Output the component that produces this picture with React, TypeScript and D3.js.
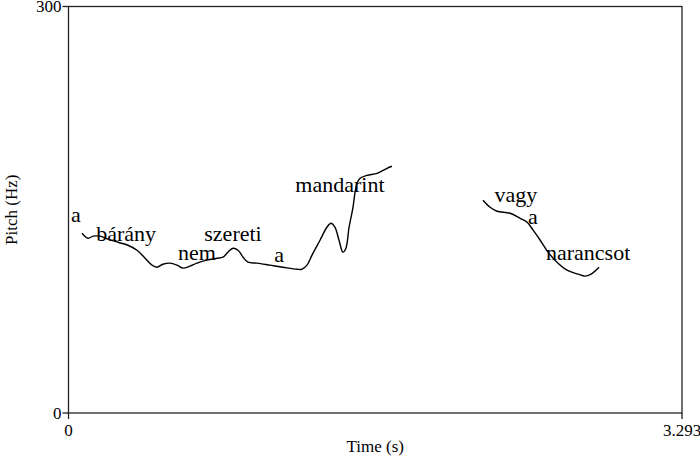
import React, { useEffect, useRef } from 'react';
import * as d3 from 'd3';

// pitch contour, two voiced stretches (time s, pitch Hz)
const seg1Time = [0.0725, 0.105, 0.132, 0.169, 0.212, 0.266, 0.319, 0.368, 0.411, 0.448, 0.475, 0.507, 0.545, 0.583, 0.615, 0.652, 0.69, 0.743, 0.797, 0.829, 0.856, 0.883, 0.91, 0.937, 0.963, 1.012, 1.082, 1.151, 1.227, 1.253, 1.28, 1.307, 1.35, 1.387, 1.409, 1.43, 1.452, 1.473, 1.489, 1.506, 1.527, 1.538, 1.549, 1.565, 1.602, 1.656, 1.71, 1.736];
const seg1Pitch = [132.7, 129.0, 130.5, 130.5, 128.3, 126.0, 123.8, 120.1, 114.2, 109.1, 107.6, 109.8, 110.6, 109.1, 106.9, 108.4, 110.6, 112.8, 114.2, 115.0, 118.7, 121.6, 120.1, 115.0, 111.3, 110.6, 109.1, 107.6, 106.1, 106.1, 109.1, 116.5, 127.5, 137.1, 140.0, 137.1, 127.5, 118.7, 121.6, 137.1, 151.8, 162.9, 169.5, 173.2, 175.4, 176.9, 180.6, 182.1];
const seg2Time = [2.225, 2.263, 2.3, 2.37, 2.424, 2.462, 2.494, 2.532, 2.574, 2.622, 2.676, 2.735, 2.772, 2.805, 2.848];
const seg2Pitch = [157.0, 151.8, 148.9, 147.4, 143.7, 140.8, 134.9, 127.5, 118.7, 111.3, 105.4, 102.5, 101.0, 102.5, 107.6];

// words written over the contour
const words = ['a', 'bárány', 'nem', 'szereti', 'a', 'mandarint', 'vagy', 'a', 'narancsot'];
const wordTime = [0.04, 0.309, 0.69, 0.883, 1.13, 1.457, 2.402, 2.493, 2.789];
const wordPitch = [141.0, 126.8, 112.8, 126.8, 111.3, 162.9, 155.5, 139.3, 112.8];

const timeTicks = [0, 3.293];
const pitchTicks = [0, 300];

const FONT = '"Liberation Serif", "Times New Roman", Times, serif';

const App = () => {
  const ref = useRef(null);

  useEffect(() => {
    const svg = d3.select(ref.current);
    svg.selectAll('*').remove();

    const left = 68.5, right = 682, top = 6.5, bottom = 413;

    const x = d3.scaleLinear().domain([0, 3.293]).range([left, right]);
    const y = d3.scaleLinear().domain([0, 300]).range([bottom, top]);

    // box
    svg.append('rect')
      .attr('x', left).attr('y', top)
      .attr('width', right - left).attr('height', bottom - top)
      .attr('fill', 'none').attr('stroke', '#222').attr('stroke-width', 1.3);

    // left ticks
    pitchTicks.forEach(v => {
      svg.append('line')
        .attr('x1', left - 6).attr('x2', left)
        .attr('y1', y(v)).attr('y2', y(v))
        .attr('stroke', '#222').attr('stroke-width', 1.3);
      svg.append('text')
        .attr('x', left - 7).attr('y', y(v))
        .attr('dy', '0.35em')
        .attr('text-anchor', 'end')
        .style('font-family', FONT).style('font-size', '17px')
        .text(v);
    });

    // bottom ticks
    timeTicks.forEach(v => {
      svg.append('line')
        .attr('x1', x(v)).attr('x2', x(v))
        .attr('y1', bottom).attr('y2', bottom + 6)
        .attr('stroke', '#222').attr('stroke-width', 1.3);
      svg.append('text')
        .attr('x', x(v)).attr('y', bottom + 23)
        .attr('text-anchor', 'middle')
        .style('font-family', FONT).style('font-size', '17px')
        .text(v);
    });

    // axis titles
    svg.append('text')
      .attr('x', (left + right) / 2).attr('y', 452)
      .attr('text-anchor', 'middle')
      .style('font-family', FONT).style('font-size', '17px')
      .text('Time (s)');

    svg.append('text')
      .attr('transform', `translate(17,${(top + bottom) / 2}) rotate(-90)`)
      .attr('text-anchor', 'middle')
      .style('font-family', FONT).style('font-size', '17px')
      .text('Pitch (Hz)');

    const line = d3.line()
      .x(d => x(d[0]))
      .y(d => y(d[1]))
      .curve(d3.curveCatmullRom);

    [[seg1Time, seg1Pitch], [seg2Time, seg2Pitch]].forEach(([ts, ps]) => {
      svg.append('path')
        .datum(ts.map((t, i) => [t, ps[i]]))
        .attr('d', line)
        .attr('fill', 'none')
        .attr('stroke', '#000')
        .attr('stroke-width', 1.4);
    });

    // word labels
    svg.append('g')
      .selectAll('text')
      .data(words)
      .enter().append('text')
      .attr('x', (d, i) => x(wordTime[i]))
      .attr('y', (d, i) => y(wordPitch[i]))
      .attr('text-anchor', 'middle')
      .style('font-family', FONT).style('font-size', '22px')
      .text(d => d);
  }, []);

  return (
    <svg ref={ref} width={700} height={460}
      style={{ position: 'absolute', left: 0, top: 0, background: '#fff' }}></svg>
  );
};

export default App;
